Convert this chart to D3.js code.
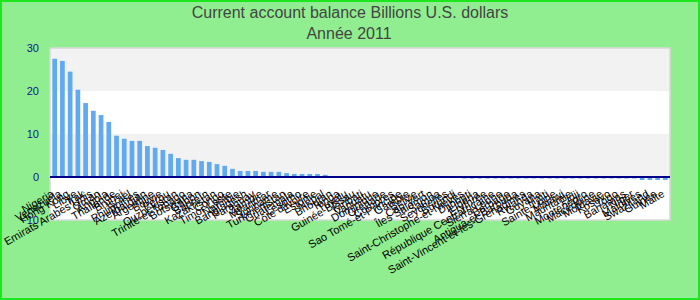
<!DOCTYPE html>
<html>
<head>
<meta charset="utf-8">
<script src="https://cdn.jsdelivr.net/npm/d3@7"></script>
<style>
	body { margin: 0; background: #90ee90; }
	svg { display: block; }
</style>
</head>
<body>
<script>

// Countries, sorted by balance (2011)
const countries = [
	'Nigeria', 'Venezuela', 'Hong Kong', 'Libye', 'Irak', 'Emirats Arabes Unis', 'Oman', 'Angola',
	'Thaïlande', 'Brunei', 'Israël', 'Philippines', 'Azerbaïdjan', 'Argentine', 'Bolivie', 'Pérou',
	'Ouzbékistan', 'Trinité-et-Tobago', 'Botswana', 'Gabon', 'Bahreïn', 'Kazakhstan', 'Congo', 'Timor-Leste',
	'Namibie', 'Bangladesh', 'Paraguay', 'Zambie', 'Myanmar', 'Suriname', 'Turkménistan', 'Guatemala',
	'Lesotho', 'Côte d\'Ivoire', 'Estonie', 'Népal', 'Bhoutan', 'Tonga', 'Tuvalu', 'Guinée-Bissau',
	'Kiribati', 'Vanuatu', 'Dominique', 'Grenade', 'Comores', 'Sao Tomé-et-Principe', 'Gambie', 'Belize',
	'Cap-Vert', 'Îles Salomon', 'Samoa', 'Seychelles', 'Burundi', 'Saint-Christophe-et-Niévès', 'Djibouti', 'Libéria',
	'Érythrée', 'République Centrafricaine', 'Sierra Leone', 'Barbade', 'Antigua-et-Barbuda', 'Saint-Vincent-et-les-Grenadines', 'Rwanda', 'Guyana',
	'Haïti', 'Sainte-Lucie', 'Malawi', 'Mauritanie', 'Fidji', 'Monténégro', 'Macédoine', 'Moldavie',
	'Kosovo', 'Togo', 'Bahamas', 'Niger', 'Maldives', 'Swaziland', 'Guinée', 'Malte'
];

// Current account balance, billions U.S. dollars
const values = [
	27.5, 27.0, 24.5, 20.3, 17.2, 15.4, 14.4, 12.8,
	9.6, 8.9, 8.4, 8.4, 7.2, 6.8, 6.3, 5.4,
	4.4, 4.0, 4.0, 3.7, 3.5, 3.0, 2.6, 1.9,
	1.4, 1.4, 1.4, 1.2, 1.2, 1.2, 0.9, 0.7,
	0.7, 0.7, 0.7, 0.5, 0.2, 0.1, 0.1, 0.1,
	0.05, 0.05, 0.04, 0.03, 0.03, 0.02, 0.02, 0.01,
	0.01, 0, 0, -0.01, -0.02, -0.35, -0.35, -0.35,
	-0.35, -0.35, -0.35, -0.35, -0.35, -0.35, -0.35, -0.35,
	-0.35, -0.35, -0.35, -0.35, -0.35, -0.35, -0.35, -0.35,
	-0.35, -0.35, -0.35, -0.35, -0.7, -0.7, -0.7, -0.7
];

const yTicks = [-10, 0, 10, 20, 30];
const title = 'Current account balance Billions U.S. dollars';
const subtitle = 'Année 2011';

const width = 700, height = 300;
const font = '"Liberation Sans", Arial, sans-serif';

const svg = d3.select('body').append('svg')
	.attr('width', width)
	.attr('height', height);

//Background and border
svg.append('rect')
	.attr('x', 1).attr('y', 1)
	.attr('width', width - 2).attr('height', height - 2)
	.style('fill', '#90ee90')
	.style('stroke', '#1ee61e')
	.style('stroke-width', 2);

//Titles
svg.append('text')
	.attr('x', 350).attr('y', 18)
	.attr('text-anchor', 'middle')
	.style('font-family', font).style('font-size', '16px').style('fill', '#444')
	.text(title);
svg.append('text')
	.attr('x', 349).attr('y', 38.5)
	.attr('text-anchor', 'middle')
	.style('font-family', font).style('font-size', '16px').style('fill', '#444')
	.text(subtitle);

const x = d3.scaleBand()
	.domain(countries)
	.range([50, 670])
	.paddingInner(0.39)
	.paddingOuter(0.3);

const y = d3.scaleLinear()
	.domain([-10, 30])
	.range([220, 48]);

//Alternating bands, grey from 0 to 10 and 20 to 30
const bands = d3.pairs(yTicks);
svg.append('g').selectAll('rect')
	.data(bands)
	.join('rect')
	.attr('x', 50)
	.attr('width', 620)
	.attr('y', d => y(d[1]))
	.attr('height', d => y(d[0]) - y(d[1]))
	.style('fill', (d, i) => i % 2 ? '#f2f2f2' : '#ffffff');

//Plot frame
svg.append('rect')
	.attr('x', 50).attr('y', y(30))
	.attr('width', 620).attr('height', y(-10) - y(30))
	.style('fill', 'none')
	.style('stroke', '#d8d8d8')
	.style('stroke-width', 1.5);

//Bars
svg.append('g').selectAll('rect')
	.data(values)
	.join('rect')
	.attr('x', (d, i) => x(countries[i]))
	.attr('width', x.bandwidth())
	.attr('y', d => y(Math.max(0, d)))
	.attr('height', d => Math.abs(y(d) - y(0)))
	.style('fill', '#62aaf0');

//Zero line
svg.append('line')
	.attr('x1', 50).attr('x2', 670)
	.attr('y1', y(0)).attr('y2', y(0))
	.style('stroke', '#00008b')
	.style('stroke-width', 2);

//Y axis
const yAxis = svg.append('g')
	.attr('transform', 'translate(50,0)')
	.call(d3.axisLeft(y).tickValues(yTicks).tickSize(0).tickPadding(11));
yAxis.select('.domain').remove();
yAxis.selectAll('text')
	.style('font-family', font)
	.style('font-size', '11px')
	.style('fill', '#14148c');

//Category labels
svg.append('g').selectAll('text')
	.data(countries)
	.join('text')
	.attr('transform', d => 'translate(' + (x(d) + x.bandwidth() / 2) + ',196) rotate(-30)')
	.attr('text-anchor', 'end')
	.style('font-family', font)
	.style('font-size', '11px')
	.style('fill', '#000')
	.text(d => d);

</script>
</body>
</html>
